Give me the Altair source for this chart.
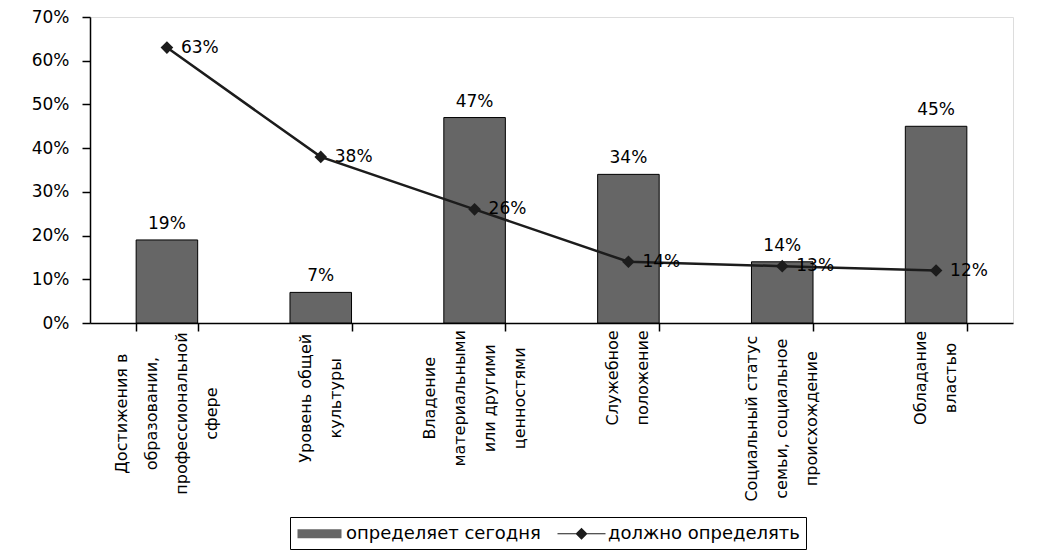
import altair as alt
import pandas as pd

categories = [
    "Достижения в\nобразовании,\nпрофессиональной\nсфере",
    "Уровень общей\nкультуры",
    "Владение\nматериальными\nили другими\nценностями",
    "Служебное\nположение",
    "Социальный статус\nсемьи, социальное\nпроисхождение",
    "Обладание\nвластью",
]
series_names = ["определяет сегодня", "должно определять"]
today = [19, 7, 47, 34, 14, 45]
should = [63, 38, 26, 14, 13, 12]
y_ticks = [0, 10, 20, 30, 40, 50, 60, 70]

FONT = "DejaVu Sans"
BAR_COLOR = "#666666"
LINE_COLOR = "#1c1c1c"
LINE_H = 30

rows = []
for c, v in zip(categories, today):
    rows.append({"cat": c, "series": series_names[0], "value": v})
for c, v in zip(categories, should):
    rows.append({"cat": c, "series": series_names[1], "value": v})
df = pd.DataFrame(rows)

lab = pd.DataFrame({
    "cat": categories,
    "longest": [max(len(s) for s in c.split("\n")) for c in categories],
    "n": [len(c.split("\n")) for c in categories],
})

x = alt.X(
    "cat:N", sort=categories,
    scale=alt.Scale(paddingInner=0.6, paddingOuter=0.3),
    axis=alt.Axis(title=None, labels=False, domainColor="black", domainWidth=1.5,
                  tickColor="black", tickWidth=1.5, tickSize=8, tickBand="extent"),
)
y = alt.Y(
    "value:Q",
    scale=alt.Scale(domain=[0, 70], nice=False),
    axis=alt.Axis(title=None, values=y_ticks, grid=False, labelExpr="datum.value + '%'",
                  labelFont=FONT, labelFontSize=17, labelColor="black", labelPadding=13,
                  domainColor="black", domainWidth=1.5, tickColor="black", tickWidth=1.5,
                  tickSize=8),
)

bar_path = "M-2.2,-0.45H2.2V0.45H-2.2Z"
line_path = "M-2.4,-0.06H2.4V0.06H-2.4Z M0,-0.6L0.6,0L0,0.6L-0.6,0Z"

legend = alt.Legend(
    title=None, orient="none", direction="horizontal", legendX=200, legendY=500,
    strokeColor="black", fillColor="white", padding=6,
    symbolSize=400, symbolOffset=13, labelOffset=16, columnPadding=14, labelLimit=400,
    symbolStrokeColor="black", symbolStrokeWidth=1, symbolOpacity=1,
    labelFont=FONT, labelFontSize=18, labelColor="black",
)
color = alt.Color("series:N", scale=alt.Scale(domain=series_names, range=[BAR_COLOR, LINE_COLOR]), legend=legend)
shape = alt.Shape("series:N", scale=alt.Scale(domain=series_names, range=[bar_path, line_path]), legend=legend)

base = alt.Chart(df)
today_base = base.transform_filter(alt.datum.series == series_names[0]).transform_calculate(lbl="datum.value + '%'")
should_base = base.transform_filter(alt.datum.series == series_names[1]).transform_calculate(lbl="datum.value + '%'")

bars = today_base.mark_bar(color=BAR_COLOR, stroke="black", strokeWidth=1).encode(x=x, y=y)
bar_labels = today_base.mark_text(baseline="alphabetic", dy=-11, font=FONT, fontSize=17, color="black").encode(
    x=x, y=y, text="lbl:N")
line = should_base.mark_line(color=LINE_COLOR, strokeWidth=2.5).encode(x=x, y=y)
points = should_base.mark_point(shape="diamond", filled=True, size=160, color=LINE_COLOR, opacity=1).encode(x=x, y=y)
line_labels = should_base.mark_text(align="left", baseline="middle", dx=14, font=FONT, fontSize=17, color="black").encode(
    x=x, y=y, text="lbl:N")
legend_src = base.mark_point(filled=True, opacity=0, size=1, stroke="black", strokeWidth=1).encode(
    x=x, y=y, color=color, shape=shape)

xlabels = alt.Chart(lab).mark_text(
    angle=270, align="center", baseline="middle", lineBreak="\n", lineHeight=LINE_H,
    font=FONT, fontSize=16, color="black",
).encode(
    x=alt.value({"expr": f"scale('x', datum.cat) + bandwidth('x') / 2 - (datum.n - 1) * {LINE_H / 2}"}),
    y=alt.value({"expr": "height + 9 + datum.longest * 5.1"}),
    text="cat:N",
)

chart = alt.layer(bars, bar_labels, line, points, line_labels, legend_src, xlabels).properties(
    width=923, height=306,
    autosize=alt.AutoSizeParams(type="none"),
    padding={"left": 82, "top": 9, "right": 16, "bottom": 227},
).configure_view(
    fill="#c0c0c0", stroke="#808080", strokeWidth=1.5
).configure_legend(
    strokeWidth=1.5
).configure(background="white")

chart.save("out.html", embed_options={"renderer": "svg", "actions": False})
